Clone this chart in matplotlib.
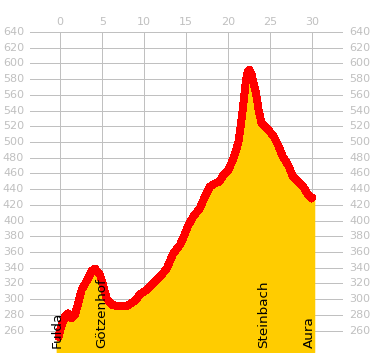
import numpy as np
import matplotlib
matplotlib.use("Agg")
from matplotlib import pyplot as plt

# route profile: distance (km) and elevation (m)
km = [-0.2, 0.0, 0.56, 0.95, 1.36, 1.75, 2.14, 2.55, 3.14, 3.74, 4.13, 4.73,
      5.12, 5.52, 6.11, 6.9, 7.9, 8.9, 9.49, 10.29, 11.07, 12.07, 12.67,
      13.45, 14.25, 14.64, 15.24, 15.83, 16.63, 17.2, 17.8, 18.4, 19.0,
      19.4, 20.0, 20.6, 20.9, 21.2, 21.5, 21.8, 22.1, 22.3, 22.5, 22.75,
      22.95, 23.3, 23.6, 23.95, 24.8, 25.4, 26.0, 26.5, 27.1, 27.7, 28.3,
      28.9, 29.5, 29.9, 30.0]
elev = [252, 261, 278, 282, 276, 280, 295, 312, 323, 336, 339, 331,
        317, 301, 293, 291, 291, 298, 306, 312, 320, 331, 339,
        358, 369, 378, 394, 405, 416, 430, 443, 447, 450,
        458, 464, 479, 488, 500, 522, 549, 579, 589, 592, 587,
        577, 562, 541, 524, 515, 507, 494, 481, 471, 456, 450,
        443, 433, 428, 429]

places = ["Fulda", "Götzenhof", "Steinbach", "Aura"]
place_km = [-0.4, 4.9, 24.2, 29.7]

y_ticks = list(range(260, 641, 20))
x_ticks = list(range(0, 31, 5))

grid_col = "#c0c0c0"
fill_col = "#ffcc00"

fig = plt.figure(figsize=(3.72, 3.64), dpi=100)
ax = fig.add_axes([30 / 372, 1 - 352 / 364, 313 / 372, 320.5 / 364])
ybot = 232.8
ax.set_xlim(-3.6, 33.65)
ax.set_ylim(ybot, 640.5)

for y in y_ticks:
    ax.axhline(y, color=grid_col, lw=0.72, zorder=1, antialiased=False)
for x in x_ticks:
    ax.plot([x, x], [ybot, 640], color=grid_col, lw=0.72, zorder=1,
            antialiased=False)

ax.fill_between(km, elev, ybot, facecolor=fill_col, edgecolor=fill_col,
                lw=3.5, zorder=2, antialiased=False)
ax.plot(km, elev, color="#ff0000", lw=5, solid_capstyle="round",
        solid_joinstyle="round", zorder=3, antialiased=False)

for name, k in zip(places, place_km):
    ax.text(k, 238, name, rotation=90, ha="center", va="bottom",
            fontsize=9.7, color="black", zorder=4)

# tick labels on left, right and top
for y in y_ticks:
    ax.text(-4.3, y, str(y), ha="right", va="center", fontsize=8,
            color=grid_col, clip_on=False)
    ax.text(34.4, y, str(y), ha="left", va="center", fontsize=8,
            color=grid_col, clip_on=False)
for x in x_ticks:
    ax.text(x, 646, str(x), ha="center", va="bottom", fontsize=8,
            color=grid_col, clip_on=False)

ax.axis("off")
fig.savefig("out.png", dpi=100)
plt.close(fig)
